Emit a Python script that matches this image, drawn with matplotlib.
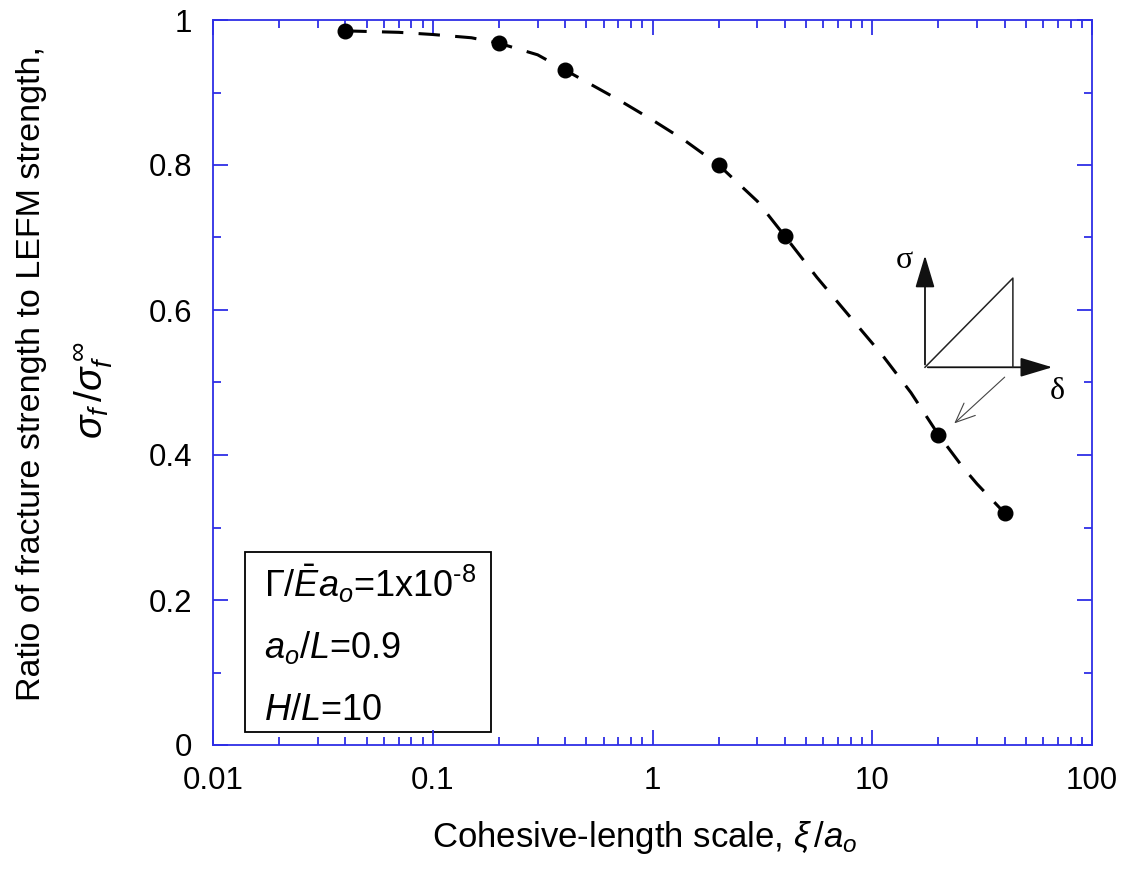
import matplotlib
matplotlib.use('Agg')
import matplotlib.pyplot as plt
from matplotlib.patches import Rectangle, FancyArrowPatch
from matplotlib.ticker import MultipleLocator, LogLocator, NullFormatter

plt.rcParams['font.family'] = ['Liberation Sans', 'DejaVu Sans']
plt.rcParams['mathtext.fontset'] = 'custom'
plt.rcParams['mathtext.rm'] = 'Liberation Sans'
plt.rcParams['mathtext.it'] = 'Liberation Sans:italic'
plt.rcParams['mathtext.sf'] = 'Liberation Sans'

# data points (xi/a_o, sigma_f/sigma_f_inf)
xi = [0.04, 0.2, 0.4, 2, 4, 20, 40]
ratio = [0.985, 0.968, 0.931, 0.800, 0.702, 0.428, 0.320]

# dashed fit curve
curve_x = [0.04, 0.07, 0.1, 0.15, 0.2, 0.3, 0.4, 0.7, 1.0, 1.4, 2.0, 3.0, 4.0,
           5.6, 7.85, 11.1, 15.0, 20, 25.7, 30, 40]
curve_y = [0.985, 0.983, 0.980, 0.9755, 0.968, 0.952, 0.931, 0.890, 0.862, 0.834, 0.800,
           0.750, 0.702, 0.645, 0.592, 0.538, 0.486, 0.428, 0.384, 0.360, 0.320]

xticks = [0.01, 0.1, 1, 10, 100]
xticklabels = ['0.01', '0.1', '1', '10', '100']
yticks = [0, 0.2, 0.4, 0.6, 0.8, 1]
yticklabels = ['0', '0.2', '0.4', '0.6', '0.8', '1']

blue = '#2e2ee6'

fig = plt.figure(figsize=(11.22, 8.75), dpi=100)
ax = fig.add_axes([213/1122, 130/875, 879/1122, 725/875])

ax.plot(curve_x, curve_y, color='black', lw=2.2, dashes=(7, 5))
ax.plot(xi, ratio, 'o', color='black', ms=10.5)

ax.set_xscale('log')
ax.set_xlim(0.01, 100)
ax.set_ylim(0, 1)
ax.set_xticks(xticks)
ax.set_xticklabels(xticklabels)
ax.xaxis.set_minor_locator(LogLocator(base=10, subs=range(2, 10)))
ax.xaxis.set_minor_formatter(NullFormatter())
ax.set_yticks(yticks)
ax.set_yticklabels(yticklabels)
ax.yaxis.set_minor_locator(MultipleLocator(0.1))

for s in ax.spines.values():
    s.set_color(blue)
    s.set_linewidth(1.3)
ax.tick_params(which='both', direction='in', top=True, right=True,
               color=blue, labelsize=22.5, width=1.3)
ax.tick_params(axis='x', which='major', length=11, pad=15)
ax.tick_params(axis='y', which='major', length=11, pad=15)
ax.tick_params(which='minor', length=6)

# axis labels
fig.text(645/1122, 1 - 838/875, r'Cohesive-length scale, $\xi\,/a_o$',
         ha='center', va='center', fontsize=25)
fig.text(32/1122, 1 - 374/875, 'Ratio of fracture strength to LEFM strength,',
         rotation=90, ha='center', va='center', fontsize=24.5)
fig.text(94/1122, 1 - 390/875, r'$\sigma_f\,/\sigma_f^{\,\infty}$',
         rotation=90, ha='center', va='center', fontsize=28)

# parameter box
ax.add_patch(Rectangle((0.036, 0.018), 0.28, 0.248, transform=ax.transAxes,
                       fill=False, ec='black', lw=1.3))
ax.text(0.058, 0.223, r'$\Gamma/\bar{E}a_o$=1x10$^{\text{-8}}$', transform=ax.transAxes,
        fontsize=26, va='center')
ax.text(0.058, 0.135, r'$a_o/L$=0.9', transform=ax.transAxes,
        fontsize=26, va='center')
ax.text(0.058, 0.048, r'$H/L$=10', transform=ax.transAxes,
        fontsize=26, va='center')

# traction-separation sketch
ox, oy = 0.810, 0.521
ax.add_patch(FancyArrowPatch((ox, oy), (ox, 0.679), transform=ax.transAxes,
                             arrowstyle='-|>,head_length=1.0,head_width=0.3',
                             mutation_scale=20, color='#111111', lw=1.3))
ax.add_patch(FancyArrowPatch((ox, oy), (0.958, oy), transform=ax.transAxes,
                             arrowstyle='-|>,head_length=1.0,head_width=0.3',
                             mutation_scale=20, color='#111111', lw=1.3))
ax.plot([ox, 0.910, 0.910], [oy, 0.644, oy], transform=ax.transAxes,
        color='#222222', lw=1.1)
ax.add_patch(FancyArrowPatch((0.903, 0.510), (0.841, 0.441), transform=ax.transAxes,
                             arrowstyle='->,head_length=0.7,head_width=0.3',
                             mutation_scale=20, color='#444444', lw=0.8))
ax.text(0.787, 0.668, 'σ', transform=ax.transAxes, fontsize=23,
        family='Liberation Serif', ha='center', va='center')
ax.text(0.961, 0.487, 'δ', transform=ax.transAxes, fontsize=23,
        family='Liberation Serif', ha='center', va='center')

fig.savefig('out.png', dpi=100)
